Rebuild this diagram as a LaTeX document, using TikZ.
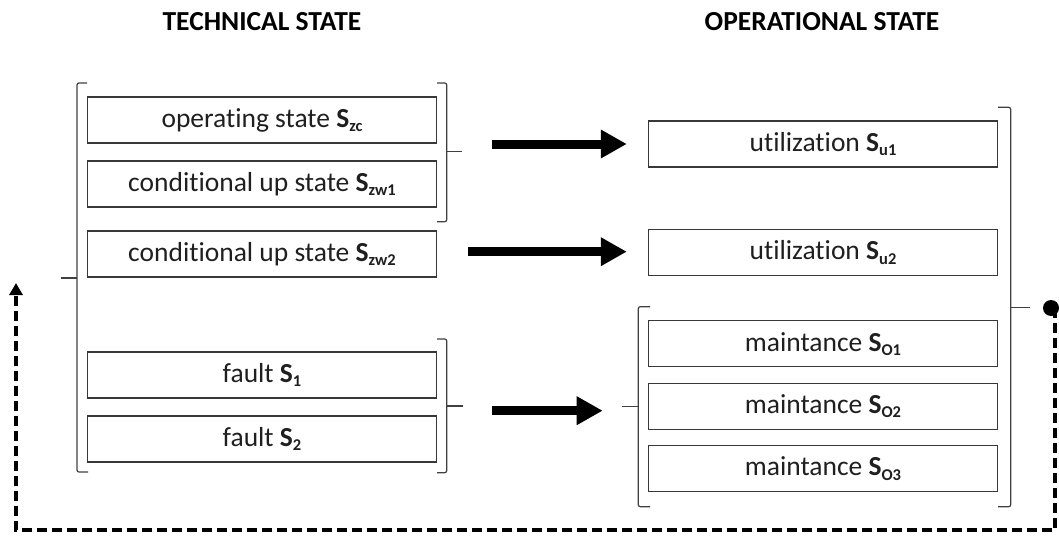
\documentclass[tikz,border=0pt]{standalone}
\usepackage{fontspec}
\setmainfont[Ligatures=NoCommon]{Carlito}
\usetikzlibrary{arrows.meta}
\newcommand\Ssub[1]{\textbf{S}\raisebox{-0.32ex}{\fontsize{16.5}{16.5}\selectfont\bfseries #1}}
\begin{document}
\begin{tikzpicture}[x=1pt,y=-1pt,
  box/.style={draw=black!78,line width=1.4pt,minimum width=349pt,minimum height=46pt,inner sep=0pt,
    font=\fontsize{27.5}{30}\selectfont,text=black!88},
  title/.style={font=\fontsize{27.5}{30}\selectfont\bfseries,text=black,inner sep=0pt},
  brk/.style={draw=black!75,line width=1.2pt,rounded corners=2pt},
  bigarrow/.style={line width=9pt,-{Triangle[length=26pt,width=27pt]}},
  dashline/.style={line width=4pt,dash pattern=on 10pt off 5pt}]
\useasboundingbox (0,0) rectangle (1059,535);
% titles
\node[title] (t1) at (262,22) {TECHNICAL STATE};
\node[title] (t2) at (822,22) {OPERATIONAL STATE};
% left boxes
\node[box] (b1) at (262,120) {operating state \Ssub{zc}};
\node[box] (b2) at (262,184) {conditional up state \Ssub{zw1}};
\node[box] (b3) at (262,254) {conditional up state \Ssub{zw2}};
\node[box] (b4) at (262,375) {fault \Ssub{1}};
\node[box] (b5) at (262,439) {fault \Ssub{2}};
% right boxes
\node[box] (u1) at (823,144) {utilization \Ssub{u1}};
\node[box] (u2) at (823,252.5) {utilization \Ssub{u2}};
\node[box] (o1) at (823,343.7) {maintance \Ssub{O1}};
\node[box] (o2) at (823,406.3) {maintance \Ssub{O2}};
\node[box] (o3) at (823,468.5) {maintance \Ssub{O3}};
% brackets
\draw[brk] (87,83) -- (77,83) -- (77,472) -- (88,472);
\draw[brk] (77,278) -- (61,278);
\draw[brk] (437,83) -- (446.7,83) -- (446.7,221.7) -- (437,221.7);
\draw[brk] (446.7,151.7) -- (461.7,151.7);
\draw[brk] (437,339) -- (446.7,339) -- (446.7,472.7) -- (437,472.7);
\draw[brk] (446.7,406) -- (462.7,406);
\draw[brk] (650,306.7) -- (638.3,306.7) -- (638.3,506.7) -- (650,506.7);
\draw[brk] (638.3,406.7) -- (622,406.7);
\draw[brk] (998,107.3) -- (1010.7,107.3) -- (1010.7,506.7) -- (998,506.7);
\draw[brk] (1010.7,307.5) -- (1030,307.5);
% arrows
\coordinate (a1s) at (492,144);
\coordinate (a2s) at (468,251.7);
\coordinate (a3s) at (492,410.7);
\draw[bigarrow] (a1s) -- ([xshift=-21pt]u1.west |- a1s);
\draw[bigarrow] (a2s) -- ([xshift=-21pt]u2.west |- a2s);
\draw[bigarrow] (a3s) -- (602.7,410.7);
% feedback
\node[circle,fill=black,minimum size=16pt,inner sep=0pt] (dot) at (1051,308) {};
\coordinate (c1) at (1055,530);
\coordinate (c2) at (16,530);
\coordinate (c3) at (16,283);
\draw[dashline] (dot.center -| c1) -- (c1) -- (c2) -- ([yshift=-10pt]c3);
\draw[line width=4pt,-{Triangle[length=12pt,width=13pt]}] ([yshift=-12pt]c3) -- (c3);
\end{tikzpicture}
\end{document}
